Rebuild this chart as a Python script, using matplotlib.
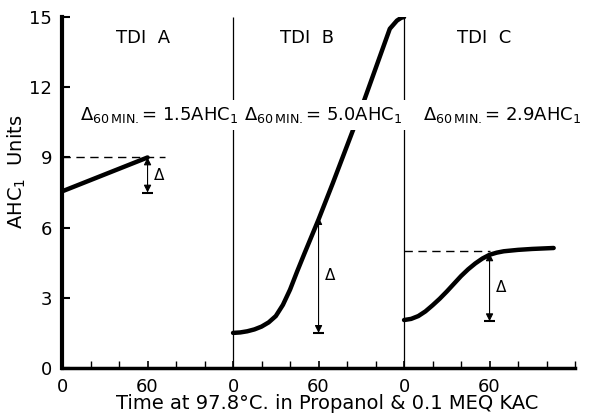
import matplotlib
matplotlib.use("Agg")
import matplotlib.pyplot as plt
import numpy as np

# minutes within each 120-min panel, AHC1 units
tdi_a_min = [0, 60]
tdi_a_val = [7.55, 9.0]

tdi_b_min = [0, 5, 10, 15, 20, 25, 30, 35, 40, 45, 50, 60, 70, 80, 90, 100, 110, 115, 118, 120]
tdi_b_val = [1.5, 1.52, 1.57, 1.65, 1.77, 1.95, 2.22, 2.7, 3.35, 4.13, 4.88, 6.35,
             7.9, 9.5, 11.1, 12.8, 14.5, 14.85, 14.97, 15.0]

tdi_c_min = [0, 5, 10, 15, 20, 25, 30, 35, 40, 45, 50, 55, 60, 65, 70, 80, 90, 105]
tdi_c_val = [2.05, 2.1, 2.22, 2.42, 2.68, 2.96, 3.27, 3.6, 3.93, 4.22, 4.47, 4.68,
             4.84, 4.93, 4.99, 5.05, 5.09, 5.13]

panel_names = ["TDI  A", "TDI  B", "TDI  C"]
panel_name_x = [57, 52, 56]
delta_60 = ["1.5", "5.0", "2.9"]
delta_top = [9.0, 6.45, 4.9]      # value at 60 min
delta_bottom = [7.5, 1.5, 2.0]    # starting value
dashed_level = [9.0, None, 5.0]
dashed_end = [72, None, 60]

panel_width = 120
xtick_labels = ["0", "60"] * 3

fig = plt.figure(figsize=(5.91, 4.17), dpi=100)
ax = fig.add_axes([0.105, 0.1175, 0.868, 0.8415])

curves = [(tdi_a_min, tdi_a_val), (tdi_b_min, tdi_b_val), (tdi_c_min, tdi_c_val)]
for i, (mins, vals) in enumerate(curves):
    off = i * panel_width
    x = np.array(mins) + off
    ax.plot(x, vals, color="black", lw=3.2, solid_capstyle="round",
            solid_joinstyle="round", zorder=3)

    # delta arrow at 60 min
    xa = off + 60
    ax.annotate("", xy=(xa, delta_top[i]), xytext=(xa, delta_bottom[i]),
                arrowprops=dict(arrowstyle="<|-|>", lw=0.8, color="black",
                                shrinkA=0, shrinkB=0, mutation_scale=11),
                zorder=3)
    ax.hlines(delta_bottom[i], xa - 4, xa + 4, color="black", lw=1.5, zorder=3)
    ax.text(xa + 8, (delta_top[i] + delta_bottom[i]) / 2, "Δ", fontsize=11,
            ha="center", va="center")

    if dashed_level[i] is not None:
        ax.hlines(dashed_level[i], off, off + dashed_end[i], color="black",
                  lw=1.0, linestyles=(0, (6, 4)), zorder=2)

    ax.text(off + panel_name_x[i], 14.1, panel_names[i], fontsize=13,
            ha="center", va="center")

# dividers between panels
ax.vlines([panel_width, 2 * panel_width], 0, 15, color="black", lw=0.9, zorder=1)

# delta-60 labels
label_x = [12.6, 128, 253]
for i in range(3):
    ax.text(label_x[i], 10.6,
            r"$\Delta_{\mathregular{60\,MIN.}}$" + "= " + delta_60[i] + r"AHC$_\mathregular{1}$",
            fontsize=13, ha="left", va="baseline", zorder=5,
            bbox=dict(boxstyle="square,pad=0.3", fc="white", ec="none"))

ax.set_xlim(0, 3 * panel_width)
ax.set_ylim(0, 15)
ax.set_xticks(np.arange(0, 3 * panel_width, 60))
ax.set_xticklabels(xtick_labels)
ax.set_xticks(np.arange(0, 3 * panel_width + 1, 20), minor=True)
ax.set_yticks([0, 3, 6, 9, 12, 15])
ax.tick_params(axis="both", direction="in", labelsize=13, length=5, width=1.2, pad=7)
ax.tick_params(axis="x", which="minor", direction="in", length=5, width=1.0)
ax.tick_params(axis="y", length=6, width=1.5)

for s in ["top", "right"]:
    ax.spines[s].set_visible(False)
ax.spines["left"].set_linewidth(3.0)
ax.spines["bottom"].set_linewidth(2.5)

ax.set_ylabel(r"AHC$_\mathregular{1}$  Units", fontsize=14)
ax.yaxis.set_label_coords(-0.066, 0.56)
ax.set_xlabel("Time at 97.8°C. in Propanol & 0.1 MEQ KAC", fontsize=14)
ax.xaxis.set_label_coords(0.517, -0.075)

fig.savefig("out.png", dpi=100)
